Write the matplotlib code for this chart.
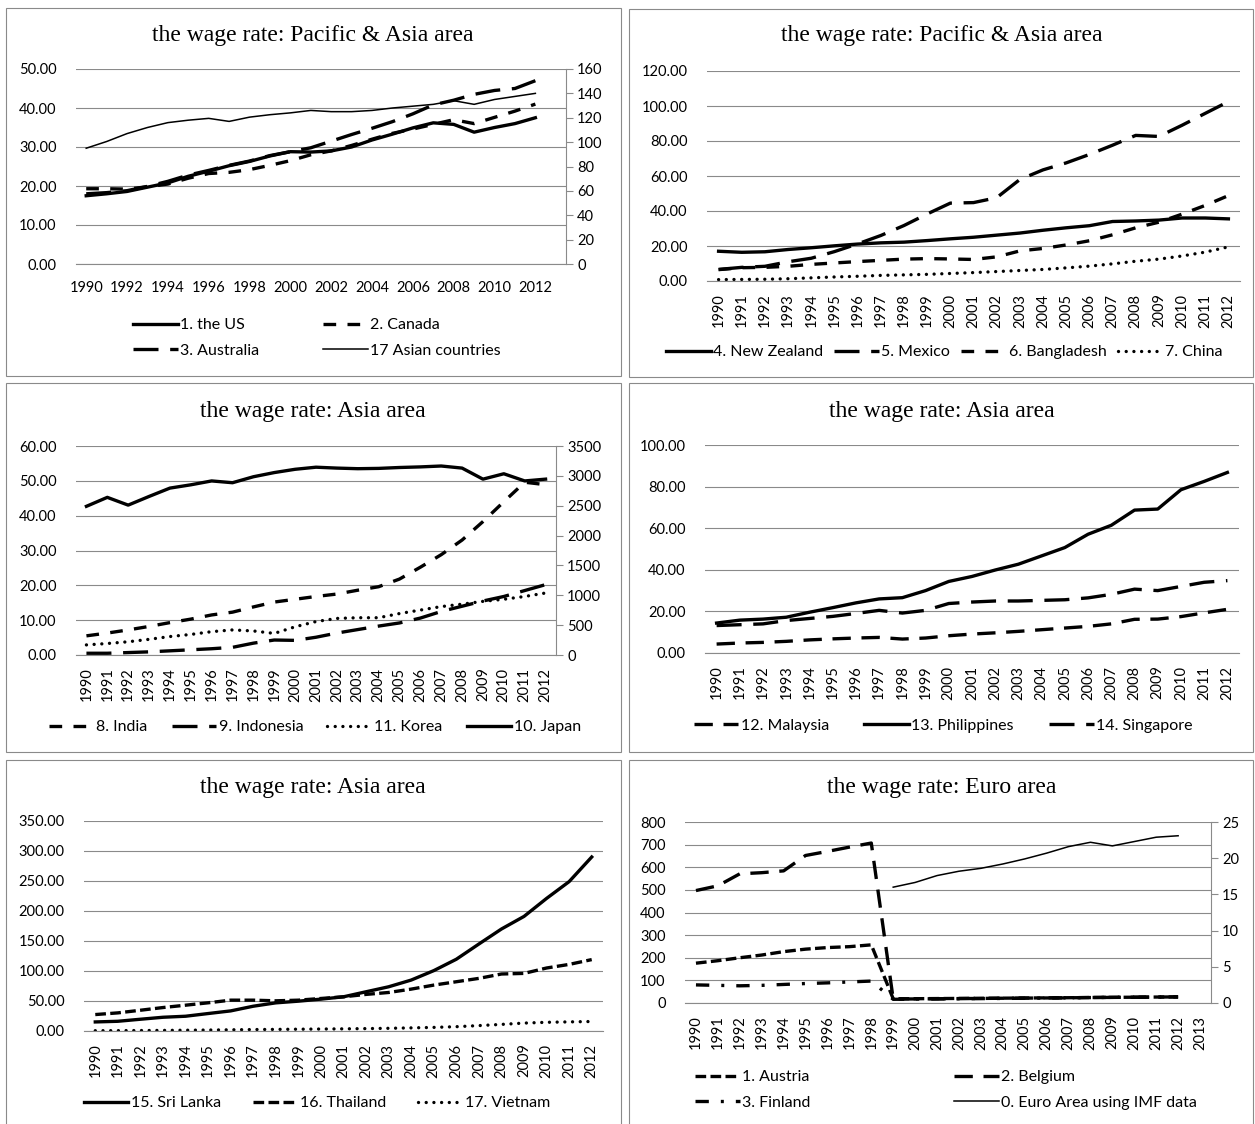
import numpy as np
import matplotlib.pyplot as plt
from matplotlib.patches import Rectangle
from matplotlib.ticker import FormatStrFormatter, MultipleLocator

W, H = 1255, 1124
plt.rcParams['font.family'] = 'Lato'

GRID = '#8a8a8a'
LW = 2.4

years = list(range(1990, 2013))
years_ext = list(range(1990, 2014))   # charts that keep an empty 2013 slot

# panel 1: Pacific & Asia area (17 Asian countries on the right axis)
us = [17.5, 18.0, 18.6, 19.7, 20.8, 22.5, 23.8, 25.2, 26.3, 27.7, 28.8, 28.7, 29.0, 30.0, 31.8, 33.3, 34.9, 36.2, 35.8, 33.8, 35.0, 36.0, 37.5]
canada = [19.3, 19.3, 19.2, 19.8, 20.5, 22.0, 23.2, 23.5, 24.2, 25.3, 26.5, 28.0, 29.0, 30.4, 32.0, 33.5, 34.6, 35.8, 37.0, 36.0, 37.6, 39.2, 41.0]
australia = [18.0, 18.3, 18.8, 19.9, 21.2, 22.8, 24.0, 25.3, 26.4, 27.8, 28.8, 29.8, 31.5, 33.2, 34.8, 36.5, 38.5, 40.8, 42.0, 43.5, 44.5, 45.0, 47.0]
asia17 = [95, 100.5, 107, 112, 116, 118, 119.5, 117, 120.5, 122.5, 124, 126, 125, 125, 126, 128, 129.5, 131, 134, 131, 135, 137.5, 140]

# panel 2: Pacific & Asia area
new_zealand = [17.0, 16.4, 16.7, 18.0, 19.0, 20.1, 21.1, 21.8, 22.2, 23.1, 24.1, 25.0, 26.2, 27.4, 29.0, 30.4, 31.6, 34.0, 34.3, 34.8, 36.0, 36.0, 35.5]
mexico = [6.6, 7.8, 8.4, 11.0, 13.0, 16.8, 21.2, 26.0, 31.7, 38.3, 44.5, 44.8, 47.6, 58.0, 63.5, 67.5, 72.3, 77.6, 83.2, 82.6, 89.0, 95.8, 102.5]
bangladesh = [6.5, 7.6, 7.8, 8.4, 9.5, 10.3, 11.1, 11.8, 12.5, 12.8, 12.6, 12.3, 13.8, 17.2, 18.6, 20.6, 23.0, 26.4, 30.4, 33.6, 38.2, 43.2, 48.8]
china = [0.8, 0.9, 1.0, 1.3, 1.8, 2.3, 2.7, 3.2, 3.5, 3.8, 4.3, 4.8, 5.4, 6.0, 6.6, 7.5, 8.5, 9.8, 11.3, 12.5, 14.3, 16.5, 19.5]

# panel 3: Asia area (Japan on the right axis)
india = [5.5, 6.3, 7.2, 8.2, 9.3, 10.3, 11.5, 12.3, 13.8, 15.2, 16.0, 16.8, 17.5, 18.6, 19.6, 21.8, 25.2, 28.8, 33.0, 38.3, 44.0, 49.6, 48.9]
indonesia = [0.5, 0.5, 0.7, 0.9, 1.2, 1.5, 1.8, 2.2, 3.4, 4.3, 4.2, 5.1, 6.3, 7.3, 8.3, 9.2, 10.6, 12.5, 14.0, 15.5, 16.8, 18.5, 20.2]
korea = [2.9, 3.3, 3.8, 4.5, 5.3, 5.9, 6.7, 7.2, 6.9, 6.2, 8.1, 9.6, 10.5, 10.7, 10.7, 11.9, 12.9, 13.9, 14.6, 15.4, 16.0, 16.8, 17.8]
japan = [2490, 2640, 2510, 2655, 2795, 2850, 2915, 2885, 2985, 3055, 3110, 3145, 3130, 3120, 3125, 3140, 3150, 3165, 3130, 2945, 3035, 2915, 2945]

# panel 4: Asia area
malaysia = [4.3, 4.8, 5.1, 5.6, 6.3, 6.8, 7.2, 7.5, 6.7, 7.2, 8.3, 9.1, 9.7, 10.4, 11.2, 12.0, 12.8, 14.0, 16.2, 16.3, 17.5, 19.3, 21.0]
philippines = [14.4, 15.8, 16.3, 17.2, 19.6, 21.8, 24.1, 26.0, 26.6, 30.0, 34.4, 36.8, 39.9, 42.7, 46.7, 50.7, 57.1, 61.4, 68.7, 69.2, 78.5, 82.5, 86.8]
singapore = [13.2, 13.6, 14.0, 15.6, 16.6, 17.6, 19.0, 20.5, 19.2, 20.5, 23.8, 24.5, 25.0, 25.0, 25.3, 25.6, 26.5, 28.2, 30.7, 30.0, 32.0, 34.0, 34.8]

# panel 5: Asia area
sri_lanka = [15.1, 16.2, 19.6, 22.9, 24.6, 29.1, 33.5, 41.3, 46.9, 49.7, 53.1, 57.0, 65.4, 73.7, 84.9, 100.6, 119.6, 145, 170, 191, 221, 249, 290]
thailand = [27.4, 30.2, 34.6, 39.1, 43.0, 47.0, 51.4, 51.4, 50.3, 51.4, 54.2, 57.0, 61.0, 64.2, 69.8, 76.5, 82.1, 87.7, 95.0, 96.0, 105.0, 111.0, 119.0]
vietnam = [0.5, 0.6, 0.8, 1.0, 1.3, 1.6, 2.0, 2.4, 2.7, 3.0, 3.3, 3.6, 4.0, 4.5, 5.2, 6.0, 7.2, 9.0, 11.0, 13.2, 14.5, 15.2, 15.8]

# panel 6: Euro area (IMF series on the right axis)
austria = [176, 187, 200, 212, 227, 238, 245, 249, 257, 18.6, 19.0, 19.6, 20.2, 20.8, 21.4, 22.0, 22.7, 23.4, 24.3, 25.0, 25.5, 26.3, 27.0]
belgium = [497, 518, 571, 576, 584, 652, 670, 689, 707, 17.5, 18.0, 18.8, 19.5, 20.2, 21.0, 21.6, 22.3, 23.1, 24.0, 24.8, 25.4, 26.2, 27.0]
finland = [80, 78, 76, 78, 82, 86, 89, 93, 97, 16.3, 17.0, 17.8, 18.6, 19.4, 20.2, 21.0, 21.8, 22.8, 24.2, 25.0, 25.6, 26.3, 27.0]
euro_imf = [np.nan] * 9 + [16.0, 16.65, 17.6, 18.2, 18.6, 19.2, 19.9, 20.7, 21.6, 22.2, 21.7, 22.3, 22.9, 23.1]


# Excel-like line styles
STYLES = {
    'solid': dict(ls='-', lw=LW),
    'thin': dict(ls='-', lw=1.1),
    'dash': dict(ls=(0, (3.8, 3.4)), lw=LW),
    'meddash': dict(ls=(0, (5.5, 3.2)), lw=LW),
    'longdash': dict(ls=(0, (7.5, 3.5)), lw=LW),
    'sqdot': dict(ls=(0, (3.2, 1.3)), lw=LW),
    'dot': dict(ls=(0, (0.01, 2.3)), lw=LW, dash_capstyle='round'),
    'dashdot': dict(ls=(0, (4.0, 3.6, 0.9, 3.6)), lw=LW),
}


def px_rect(x0, y0, x1, y1):
    return [x0 / W, 1 - y1 / H, (x1 - x0) / W, (y1 - y0) / H]


def draw(ax, values, label, kind):
    x = np.arange(len(values))
    line, = ax.plot(x, values, color='black', label=label,
                    solid_joinstyle='round', **STYLES[kind])
    return line


def panel(fig, border, title, title_xy, box, ymax, ystep, fmt, ncat, xlabels, xstep=1, rotate=True):
    bx0, by0, bx1, by1 = border
    fig.add_artist(Rectangle((bx0 / W, 1 - by1 / H), (bx1 - bx0) / W, (by1 - by0) / H,
                             transform=fig.transFigure, fill=False, ec=GRID, lw=0.8))
    fig.text(title_xy[0] / W, 1 - title_xy[1] / H, title, family='Liberation Serif',
             fontsize=17, ha='center', va='center')
    ax = fig.add_axes(px_rect(*box))
    for s in ['top', 'left', 'right']:
        ax.spines[s].set_visible(False)
    ax.spines['bottom'].set_color(GRID)
    ax.spines['bottom'].set_linewidth(0.8)
    ax.set_ylim(0, ymax)
    ax.yaxis.set_major_locator(MultipleLocator(ystep))
    ax.yaxis.set_major_formatter(FormatStrFormatter(fmt))
    ax.yaxis.grid(True, color=GRID, lw=0.8)
    ax.set_axisbelow(True)
    ax.tick_params(axis='y', length=0, pad=14, labelsize=10.5)
    ax.set_xlim(-0.5, ncat - 0.5)
    ticks = list(range(0, len(xlabels) * xstep, xstep))
    ax.set_xticks(ticks)
    ax.set_xticklabels(xlabels, rotation=90 if rotate else 0)
    ax.tick_params(axis='x', length=0, pad=9 if rotate else 12, labelsize=10.5)
    return ax


def right_axis(ax, ymax, ystep):
    ax2 = ax.twinx()
    for s in ['top', 'left', 'bottom']:
        ax2.spines[s].set_visible(False)
    ax2.spines['right'].set_color(GRID)
    ax2.spines['right'].set_linewidth(0.8)
    ax2.set_ylim(0, ymax)
    ax2.yaxis.set_major_locator(MultipleLocator(ystep))
    ax2.yaxis.set_major_formatter(FormatStrFormatter('%d'))
    ax2.tick_params(axis='y', length=5, width=0.8, color=GRID, pad=3, labelsize=10.5)
    return ax2


def legend(fig, handles, cx, cy, ncol, colsp):
    fig.legend(handles, [h.get_label() for h in handles], loc='center',
               bbox_to_anchor=(cx / W, 1 - cy / H), ncol=ncol, frameon=False,
               fontsize=11.5, handlelength=2.8, handletextpad=0.15,
               columnspacing=colsp, labelspacing=0.7, borderpad=0, borderaxespad=0)


fig = plt.figure(figsize=(W / 100, H / 100), dpi=100)

yl = [str(y) for y in years]

# ---- panel 1
ax = panel(fig, (6, 8, 621, 376), 'the wage rate: Pacific & Asia area', (313, 35),
           (76, 69, 566, 264), 50, 10, '%.2f', 24, yl[::2], xstep=2, rotate=False)
ax2 = right_axis(ax, 160, 20)
h_us = draw(ax, us, '1. the US', 'solid')
h_ca = draw(ax, canada, '2. Canada', 'dash')
h_au = draw(ax, australia, '3. Australia', 'longdash')
h_as = draw(ax2, asia17, '17 Asian countries', 'thin')
legend(fig, [h_us, h_au, h_ca, h_as], 317, 338, 2, 4.0)

# ---- panel 2
ax = panel(fig, (629, 9, 1253, 377), 'the wage rate: Pacific & Asia area', (942, 36),
           (707, 71, 1240, 281), 120, 20, '%.2f', 23, yl)
hs = [draw(ax, new_zealand, '4. New Zealand', 'solid'),
      draw(ax, mexico, '5. Mexico', 'longdash'),
      draw(ax, bangladesh, '6. Bangladesh', 'dash'),
      draw(ax, china, '7. China', 'dot')]
legend(fig, hs, 944, 352, 4, 0.7)

# ---- panel 3
ax = panel(fig, (6, 383, 621, 752), 'the wage rate: Asia area', (313, 411),
           (76, 446, 556, 655), 60, 10, '%.2f', 23, yl)
ax2 = right_axis(ax, 3500, 500)
hs = [draw(ax, india, '8. India', 'dash'),
      draw(ax, indonesia, '9. Indonesia', 'longdash'),
      draw(ax, korea, '11. Korea', 'dot'),
      draw(ax2, japan, '10. Japan', 'solid')]
legend(fig, hs, 315, 727, 4, 1.5)

# ---- panel 4
ax = panel(fig, (629, 383, 1253, 752), 'the wage rate: Asia area', (942, 411),
           (705, 445, 1239, 653), 100, 20, '%.2f', 23, yl)
hs = [draw(ax, malaysia, '12. Malaysia', 'meddash'),
      draw(ax, philippines, '13. Philippines', 'solid'),
      draw(ax, singapore, '14. Singapore', 'longdash')]
legend(fig, hs, 943, 726, 3, 2.2)

# ---- panel 5
ax = panel(fig, (6, 760, 621, 1130), 'the wage rate: Asia area', (313, 788),
           (84, 821, 603, 1031), 350, 50, '%.2f', 23, yl)
hs = [draw(ax, sri_lanka, '15. Sri Lanka', 'solid'),
      draw(ax, thailand, '16. Thailand', 'sqdot'),
      draw(ax, vietnam, '17. Vietnam', 'dot')]
legend(fig, hs, 317, 1103, 3, 2.0)

# ---- panel 6
ax = panel(fig, (629, 760, 1253, 1130), 'the wage rate: Euro area', (942, 788),
           (685, 822, 1211, 1003), 800, 100, '%d', 24, [str(y) for y in years_ext])
ax2 = right_axis(ax, 25, 5)
h_at = draw(ax, austria, '1. Austria', 'sqdot')
h_be = draw(ax, belgium, '2. Belgium', 'meddash')
h_fi = draw(ax, finland, '3. Finland', 'dashdot')
h_eu = draw(ax2, euro_imf, '0. Euro Area using IMF data', 'thin')
legend(fig, [h_at, h_fi, h_be, h_eu], 946, 1090, 2, 9.0)

fig.savefig('out.png', dpi=100)
